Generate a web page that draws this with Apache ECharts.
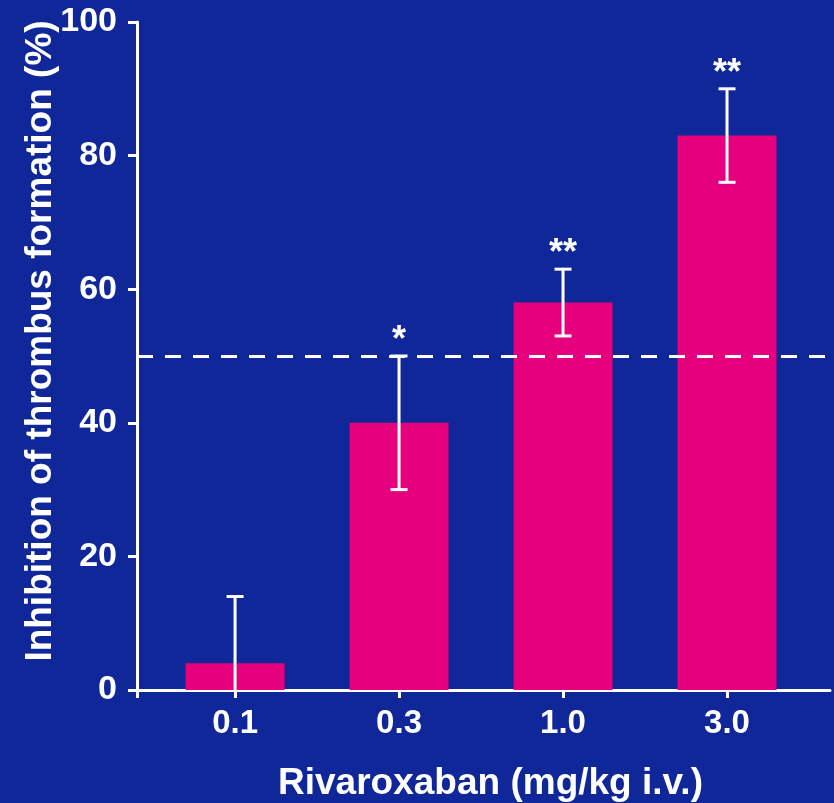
<!DOCTYPE html>
<html>
<head>
<meta charset="utf-8">
<script src="https://cdn.jsdelivr.net/npm/echarts@6/dist/echarts.min.js"></script>
<style>
html,body{margin:0;padding:0;background:#10279A;}
#chart{width:834px;height:803px;}
</style>
</head>
<body>
<div id="chart"></div>
<script>
var categories = ['0.1', '0.3', '1.0', '3.0'];
var meanValues = [4, 40, 58, 83];
var sdValues = [10, 10, 5, 7];
var significance = ['', '*', '**', '**'];
var referenceLine = 50;
var yTicks = [0, 20, 40, 60, 80, 100];

var font = '"Liberation Sans", Arial, Helvetica, sans-serif';
var white = '#FFFFFF';
var pink = '#E6007E';

var barData = meanValues.map(function (v, i) { return [i, v]; });
var errData = meanValues.map(function (v, i) { return [i, v - sdValues[i], v + sdValues[i], significance[i]]; });

var chart = echarts.init(document.getElementById('chart'), null, {renderer: 'canvas'});
chart.setOption({
  backgroundColor: '#10279A',
  animation: false,
  grid: {left: 137, right: 4, top: 22, bottom: 113, containLabel: false, outerBoundsMode: 'none'},
  xAxis: {
    type: 'value',
    min: -0.598,
    max: 3.628,
    name: 'Rivaroxaban (mg/kg i.v.)',
    nameLocation: 'middle',
    nameGap: 75,
    nameMoveOverlap: false,
    nameTextStyle: {color: white, fontSize: 37, fontWeight: 'bold', fontFamily: font, padding: [0, 0, 0, 14]},
    splitLine: {show: false},
    axisLine: {show: true, onZero: false, lineStyle: {color: white, width: 3}},
    axisTick: {show: true, length: 8, lineStyle: {color: white, width: 3}, customValues: [-0.598, 0, 1, 2, 3]},
    axisLabel: {
      show: true, margin: 17, color: white, fontSize: 33, fontWeight: 'bold', fontFamily: font,
      customValues: [0, 1, 2, 3],
      formatter: function (v) { return categories[Math.round(v)]; }
    }
  },
  yAxis: {
    type: 'value',
    min: 0,
    max: 100,
    interval: 20,
    name: 'Inhibition of thrombus formation (%)',
    nameLocation: 'middle',
    nameRotate: 90,
    nameGap: 78,
    nameMoveOverlap: false,
    nameTextStyle: {color: white, fontSize: 37, fontWeight: 'bold', fontFamily: font, padding: [0, 0, 0, 30]},
    splitLine: {show: false},
    axisLine: {show: true, onZero: false, lineStyle: {color: white, width: 3}},
    axisTick: {show: true, length: 9, lineStyle: {color: white, width: 3}},
    axisLabel: {
      margin: 20, color: white, fontSize: 34, fontWeight: 'bold', fontFamily: font,
      formatter: function (v) { return yTicks.indexOf(v) >= 0 ? String(v) : ''; }
    }
  },
  series: [
    {
      type: 'bar',
      data: barData,
      barWidth: 99,
      itemStyle: {color: pink},
      z: 2,
      markLine: {
        silent: true,
        symbol: 'none',
        label: {show: false},
        lineStyle: {color: white, width: 3, type: [16, 12]},
        data: [{yAxis: referenceLine}]
      }
    },
    {
      type: 'custom',
      z: 5,
      data: errData,
      renderItem: function (params, api) {
        var x = api.value(0);
        var lo = api.value(1);
        var hi = api.value(2);
        var sig = errData[params.dataIndex][3];
        var clipped = lo < 0;
        var pTop = api.coord([x, hi]);
        var pBot = api.coord([x, clipped ? 0 : lo]);
        var cap = 8.5;
        var style = {stroke: white, lineWidth: 3};
        var children = [
          {type: 'line', shape: {x1: pTop[0], y1: pTop[1], x2: pBot[0], y2: pBot[1]}, style: style},
          {type: 'line', shape: {x1: pTop[0] - cap, y1: pTop[1], x2: pTop[0] + cap, y2: pTop[1]}, style: style}
        ];
        if (!clipped) {
          children.push({type: 'line', shape: {x1: pBot[0] - cap, y1: pBot[1], x2: pBot[0] + cap, y2: pBot[1]}, style: style});
        }
        if (sig) {
          children.push({
            type: 'text',
            style: {
              text: sig, x: pTop[0], y: pTop[1] + 3,
              fill: white, font: 'bold 36px ' + font,
              align: 'center', verticalAlign: 'bottom'
            }
          });
        }
        return {type: 'group', children: children};
      }
    }
  ]
});
</script>
</body>
</html>
